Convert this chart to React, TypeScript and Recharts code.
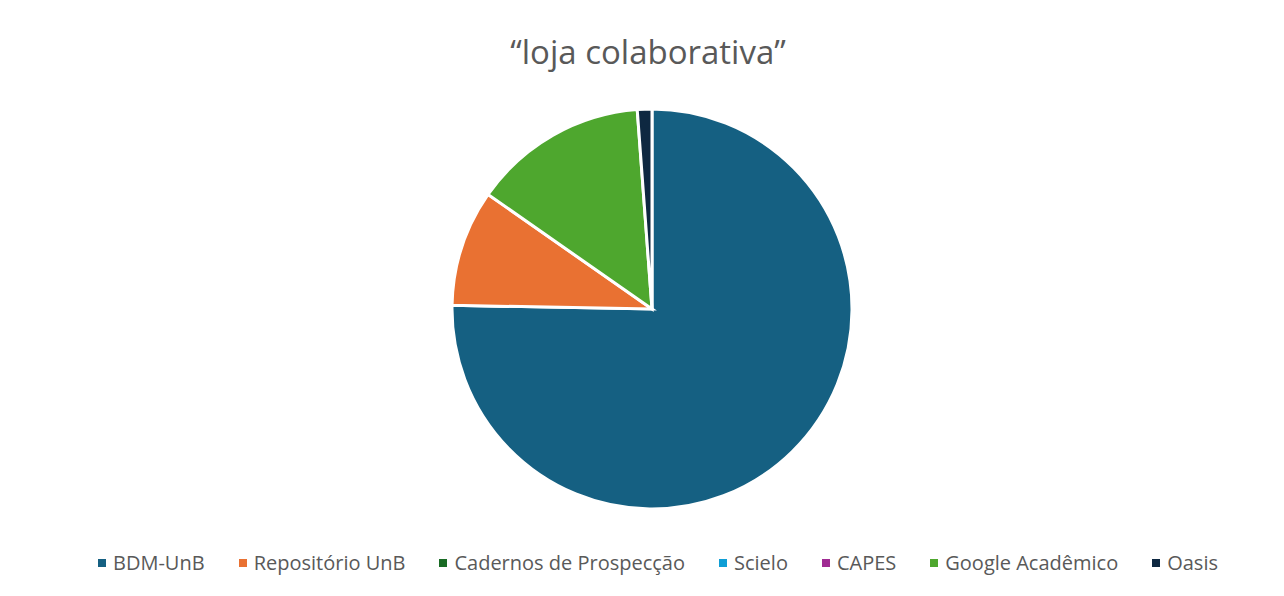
import React from "react";
import { PieChart, Pie, Cell, Legend } from "recharts";

const categories = [
  "BDM-UnB",
  "Repositório UnB",
  "Cadernos de Prospecção",
  "Scielo",
  "CAPES",
  "Google Acadêmico",
  "Oasis",
];
const values = [64, 8, 0, 0, 0, 12, 1];
const colors = ["#156082", "#E97132", "#196B24", "#0F9ED5", "#A02B93", "#4EA72E", "#0E2841"];
const title = "“loja colaborativa”";

const data = categories.map((name, i) => ({ name, value: values[i] }));

const W = 1284;
const H = 596;

const LegendContent = () => (
  <div
    style={{
      display: "flex",
      justifyContent: "center",
      alignItems: "center",
      gap: 34,
      fontFamily: "'Open Sans', sans-serif",
      fontSize: 20,
      color: "#595959",
      whiteSpace: "nowrap",
    }}
  >
    {categories.map((c, i) => (
      <div key={c} style={{ display: "flex", alignItems: "center" }}>
        <span
          style={{ display: "inline-block", width: 8, height: 8, background: colors[i], marginRight: 7 }}
        />
        <span>{c}</span>
      </div>
    ))}
  </div>
);

export default function App() {
  return (
    <div style={{ position: "absolute", left: 0, top: 0, width: W, height: H, background: "#ffffff" }}>
      <div
        style={{
          position: "absolute",
          left: 7,
          top: 31,
          width: W - 2,
          textAlign: "center",
          fontFamily: "'Open Sans', sans-serif",
          fontSize: 33,
          color: "#595959",
          lineHeight: "42px",
        }}
      >
        {title}
      </div>
      <PieChart
        width={W}
        height={H}
        margin={{ top: 0, right: 0, bottom: 0, left: 0 }}
        style={{ position: "absolute", left: 0, top: 0 }}
      >
        <Pie
          data={data}
          dataKey="value"
          nameKey="name"
          cx={652}
          cy={309}
          outerRadius={200}
          startAngle={90}
          endAngle={-270}
          stroke="#ffffff"
          strokeWidth={3}
          isAnimationActive={false}
          labelLine={false}
        >
          {data.map((d, i) => (
            <Cell key={d.name} fill={colors[i]} />
          ))}
        </Pie>
        <Legend
          verticalAlign="bottom"
          align="center"
          content={<LegendContent />}
          wrapperStyle={{ bottom: 20, left: 21, width: W - 10 }}
        />
      </PieChart>
    </div>
  );
}
